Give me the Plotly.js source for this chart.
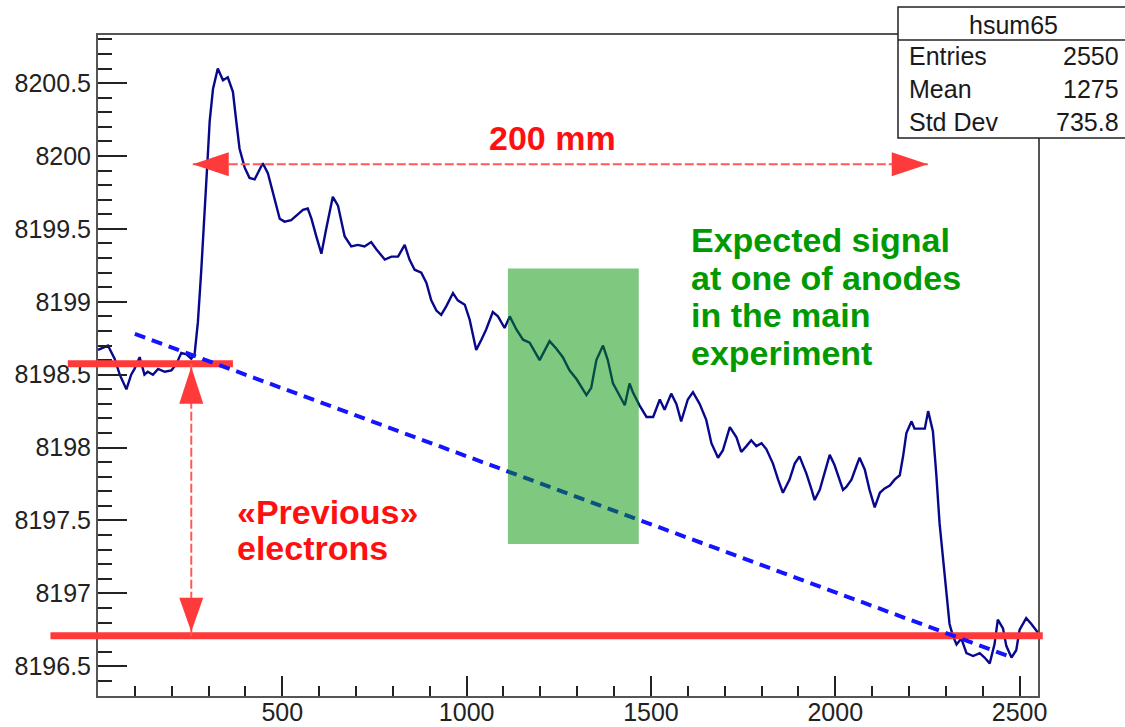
<!DOCTYPE html>
<html>
<head>
<meta charset="utf-8">
<script src="https://cdn.plot.ly/plotly-3.0.1.min.js"></script>
<style>
  html, body { margin: 0; padding: 0; background: #ffffff; }
  #chart { width: 1125px; height: 727px; }
</style>
</head>
<body>
<div id="chart"></div>
<script>
// ---- histogram hsum65: summed signal per bin ----
const binCenters = [
  0, 27, 45, 59, 77, 90, 99, 113, 126, 135,
  149, 163, 181, 199, 212, 226, 240, 253, 262, 271,
  280, 289, 298, 303, 312, 325, 339, 352, 366, 375,
  384, 398, 411, 425, 438, 447, 461, 479, 493, 506,
  524, 542, 556, 569, 579, 592, 606, 619, 637, 651,
  669, 687, 705, 723, 741, 755, 778, 796, 814, 832,
  845, 859, 877, 891, 904, 918, 931, 945, 963, 976,
  995, 1008, 1026, 1040, 1053, 1071, 1085, 1103, 1117, 1135,
  1153, 1171, 1198, 1225, 1243, 1261, 1279, 1298, 1325, 1338,
  1352, 1370, 1383, 1397, 1410, 1429, 1442, 1451, 1469, 1488,
  1506, 1524, 1537, 1555, 1569, 1582, 1600, 1614, 1632, 1650,
  1664, 1682, 1695, 1714, 1732, 1745, 1759, 1772, 1786, 1800,
  1813, 1831, 1845, 1858, 1876, 1890, 1903, 1922, 1936, 1944,
  1958, 1971, 1985, 1998, 2012, 2021, 2030, 2044, 2057, 2066,
  2080, 2093, 2107, 2121, 2134, 2148, 2161, 2175, 2184, 2193,
  2207, 2215, 2229, 2243, 2252, 2265, 2274, 2283, 2292, 2301,
  2310, 2319, 2329, 2342, 2356, 2374, 2392, 2405, 2419, 2432,
  2441, 2455, 2464, 2478, 2491, 2500, 2518, 2532, 2545, 2550
];
const binContents = [
  8198.67, 8198.70, 8198.61, 8198.50, 8198.40, 8198.50, 8198.54, 8198.62, 8198.50, 8198.52,
  8198.50, 8198.54, 8198.52, 8198.53, 8198.57, 8198.65, 8198.64, 8198.61, 8198.64, 8198.86,
  8199.21, 8199.66, 8200.01, 8200.24, 8200.46, 8200.60, 8200.52, 8200.54, 8200.44, 8200.24,
  8200.05, 8199.92, 8199.85, 8199.84, 8199.90, 8199.95, 8199.88, 8199.71, 8199.57, 8199.55,
  8199.56, 8199.60, 8199.63, 8199.64, 8199.57, 8199.45, 8199.33, 8199.50, 8199.72, 8199.66,
  8199.45, 8199.38, 8199.39, 8199.38, 8199.41, 8199.36, 8199.29, 8199.31, 8199.31, 8199.39,
  8199.29, 8199.22, 8199.20, 8199.13, 8199.01, 8198.94, 8198.91, 8198.97, 8199.06, 8199.01,
  8198.98, 8198.88, 8198.67, 8198.74, 8198.81, 8198.93, 8198.90, 8198.82, 8198.90, 8198.81,
  8198.74, 8198.72, 8198.60, 8198.73, 8198.68, 8198.62, 8198.53, 8198.47, 8198.36, 8198.41,
  8198.60, 8198.70, 8198.60, 8198.44, 8198.38, 8198.29, 8198.44, 8198.38, 8198.29, 8198.21,
  8198.21, 8198.33, 8198.26, 8198.37, 8198.30, 8198.18, 8198.33, 8198.38, 8198.30, 8198.19,
  8198.03, 8197.93, 8197.98, 8198.14, 8198.07, 8197.97, 8198.01, 8198.05, 8198.01, 8198.03,
  8197.99, 8197.89, 8197.78, 8197.69, 8197.78, 8197.89, 8197.94, 8197.82, 8197.71, 8197.64,
  8197.71, 8197.82, 8197.95, 8197.88, 8197.78, 8197.71, 8197.73, 8197.78, 8197.87, 8197.93,
  8197.85, 8197.71, 8197.59, 8197.69, 8197.72, 8197.74, 8197.78, 8197.81, 8197.94, 8198.10,
  8198.18, 8198.13, 8198.13, 8198.13, 8198.25, 8198.11, 8197.82, 8197.48, 8197.25, 8197.02,
  8196.79, 8196.71, 8196.65, 8196.69, 8196.59, 8196.57, 8196.59, 8196.56, 8196.52, 8196.65,
  8196.82, 8196.76, 8196.64, 8196.56, 8196.61, 8196.75, 8196.83, 8196.79, 8196.75, 8196.73
];

// ---- axes ----
const xRange = [0, 2550];
const yRange = [8196.296, 8200.830];
const xTickVals = [500, 1000, 1500, 2000, 2500];
const xTickText = ['500', '1000', '1500', '2000', '2500'];
const yTickVals = [8196.5, 8197, 8197.5, 8198, 8198.5, 8199, 8199.5, 8200, 8200.5];
const yTickText = ['8196.5', '8197', '8197.5', '8198', '8198.5', '8199', '8199.5', '8200', '8200.5'];

// ---- statistics box ----
const histName = 'hsum65';
const statLabels = ['Entries', 'Mean', 'Std Dev'];
const statValues = ['2550', '1275', '735.8'];

// ---- overlays, in data units ----
const levelBefore = 8198.575;          // baseline before the pulse
const levelAfter = 8196.71;            // baseline after the pulse
const levelBeforeSpan = [-82, 366];
const levelAfterSpan = [-129, 2563];
const trendX = [100, 2480];            // dashed drift line
const trendY = [8198.78, 8196.56];
const lengthArrowX = [257, 2251];      // 200 mm span
const lengthArrowY = 8199.943;
const offsetArrowX = 253;              // "previous" electrons offset
const signalBoxX = [1112, 1467];
const signalBoxY = [8197.338, 8199.229];
const lengthLabel = '200 mm';
const signalLabel = ['Expected signal', 'at one of anodes', 'in the main', 'experiment'];
const offsetLabel = ['«Previous»', 'electrons'];

// ---- page geometry ----
const W = 1125, H = 727;
const M = { l: 98, r: 87, t: 35, b: 31 };
const plotW = W - M.l - M.r, plotH = H - M.t - M.b;
const pxX = p => (p - M.l) / plotW;              // page pixel -> paper x
const pxY = p => (M.t + plotH - p) / plotH;      // page pixel -> paper y
const dataToPaperX = x => (x - xRange[0]) / (xRange[1] - xRange[0]);

const FONT = 'Liberation Sans, Arial, Helvetica, sans-serif';
const RED_LINE = '#ff3a3a';
const RED_DASH = '#ff5a5a';
const RED_TEXT = '#ff1010';
const GREEN_TEXT = '#009a00';

const trace = {
  type: 'scatter',
  mode: 'lines',
  x: binCenters,
  y: binContents,
  line: { color: '#08088c', width: 2.4 },
  hoverinfo: 'x+y'
};

const axisCommon = {
  showgrid: false,
  zeroline: false,
  showline: true,
  mirror: true,
  linecolor: '#555555',
  linewidth: 2,
  ticks: 'inside',
  tickcolor: '#222222',
  tickwidth: 1.5,
  tickfont: { family: FONT, size: 25, color: '#222222' }
};

const shapes = [
  // flat levels before and after the pulse
  { type: 'line', xref: 'paper', yref: 'y', layer: 'above',
    x0: dataToPaperX(levelBeforeSpan[0]), x1: dataToPaperX(levelBeforeSpan[1]),
    y0: levelBefore, y1: levelBefore, line: { color: RED_LINE, width: 7 } },
  { type: 'line', xref: 'paper', yref: 'y', layer: 'above',
    x0: dataToPaperX(levelAfterSpan[0]), x1: dataToPaperX(levelAfterSpan[1]),
    y0: levelAfter, y1: levelAfter, line: { color: RED_LINE, width: 7 } },
  // drift trend
  { type: 'line', xref: 'x', yref: 'y', layer: 'above',
    x0: trendX[0], x1: trendX[1], y0: trendY[0], y1: trendY[1],
    line: { color: '#1414ff', width: 4, dash: '11px,7px' } },
  // 200 mm span arrow
  { type: 'line', xref: 'x', yref: 'y', layer: 'above',
    x0: lengthArrowX[0], x1: lengthArrowX[1], y0: lengthArrowY, y1: lengthArrowY,
    line: { color: RED_DASH, width: 2, dash: '9px,3px' } },
  { type: 'path', xref: 'x', yref: 'y', layer: 'above',
    xsizemode: 'pixel', ysizemode: 'pixel', xanchor: lengthArrowX[0], yanchor: lengthArrowY,
    path: 'M0,0 L36,12 L36,-12 Z', fillcolor: RED_LINE, line: { width: 0 } },
  { type: 'path', xref: 'x', yref: 'y', layer: 'above',
    xsizemode: 'pixel', ysizemode: 'pixel', xanchor: lengthArrowX[1], yanchor: lengthArrowY,
    path: 'M0,0 L-36,12 L-36,-12 Z', fillcolor: RED_LINE, line: { width: 0 } },
  // offset arrow between the two levels
  { type: 'line', xref: 'x', yref: 'y', layer: 'above',
    x0: offsetArrowX, x1: offsetArrowX, y0: levelBefore, y1: levelAfter,
    line: { color: RED_DASH, width: 2, dash: '9px,3px' } },
  { type: 'path', xref: 'x', yref: 'y', layer: 'above',
    xsizemode: 'pixel', ysizemode: 'pixel', xanchor: offsetArrowX, yanchor: levelBefore,
    path: 'M0,-3 L-12,-40 L12,-40 Z', fillcolor: RED_LINE, line: { width: 0 } },
  { type: 'path', xref: 'x', yref: 'y', layer: 'above',
    xsizemode: 'pixel', ysizemode: 'pixel', xanchor: offsetArrowX, yanchor: levelAfter,
    path: 'M0,4 L-12,38 L12,38 Z', fillcolor: RED_LINE, line: { width: 0 } },
  // expected signal window
  { type: 'rect', xref: 'x', yref: 'y', layer: 'above',
    x0: signalBoxX[0], x1: signalBoxX[1], y0: signalBoxY[0], y1: signalBoxY[1],
    fillcolor: 'rgb(0,146,0)', opacity: 0.5, line: { width: 0 } },
  // statistics box
  { type: 'rect', xref: 'paper', yref: 'paper', layer: 'above',
    x0: pxX(898), x1: pxX(1135), y0: pxY(138), y1: pxY(7),
    fillcolor: '#ffffff', line: { color: '#222222', width: 1.5 } },
  { type: 'line', xref: 'paper', yref: 'paper', layer: 'above',
    x0: pxX(898), x1: pxX(1135), y0: pxY(40), y1: pxY(40),
    line: { color: '#222222', width: 1.5 } }
];

const annotations = [];
const boldText = (txt, x, y, color, xanchor) => ({
  xref: 'paper', yref: 'paper', x: x, y: y, xanchor: xanchor, yanchor: 'middle',
  text: '<b>' + txt + '</b>', showarrow: false,
  font: { family: FONT, size: 34, color: color }
});
annotations.push(boldText(lengthLabel, pxX(552), pxY(138), RED_TEXT, 'center'));
const signalRows = [240, 278, 315, 353];
signalLabel.forEach((t, i) => annotations.push(boldText(t, pxX(689), pxY(signalRows[i]), GREEN_TEXT, 'left')));
const offsetRows = [512, 548];
offsetLabel.forEach((t, i) => annotations.push(boldText(t, pxX(235), pxY(offsetRows[i]), RED_TEXT, 'left')));

const statFont = { family: FONT, size: 25, color: '#1a1a1a' };
annotations.push({ xref: 'paper', yref: 'paper', x: pxX(1013), y: pxY(25), xanchor: 'center', yanchor: 'middle',
  text: histName, showarrow: false, font: statFont });
const statRows = [56, 89, 122];
statLabels.forEach((t, i) => {
  annotations.push({ xref: 'paper', yref: 'paper', x: pxX(907), y: pxY(statRows[i]), xanchor: 'left', yanchor: 'middle',
    text: t, showarrow: false, font: statFont });
  annotations.push({ xref: 'paper', yref: 'paper', x: pxX(1121), y: pxY(statRows[i]), xanchor: 'right', yanchor: 'middle',
    text: statValues[i], showarrow: false, font: statFont });
});

const layout = {
  width: W, height: H,
  margin: { l: M.l, r: M.r, t: M.t, b: M.b, pad: 0 },
  paper_bgcolor: '#ffffff',
  plot_bgcolor: '#ffffff',
  showlegend: false,
  xaxis: Object.assign({}, axisCommon, {
    range: xRange,
    tickmode: 'array', tickvals: xTickVals, ticktext: xTickText,
    ticklen: 20,
    ticklabelstandoff: -7,
    minor: { tickmode: 'linear', tick0: 0, dtick: 100, ticks: 'inside', ticklen: 10,
             tickcolor: '#222222', tickwidth: 1.5, showgrid: false }
  }),
  yaxis: Object.assign({}, axisCommon, {
    range: yRange,
    tickmode: 'array', tickvals: yTickVals, ticktext: yTickText,
    ticklen: 29,
    minor: { tickmode: 'linear', tick0: 8196.5, dtick: 0.1, ticks: 'inside', ticklen: 14,
             tickcolor: '#222222', tickwidth: 1.5, showgrid: false }
  }),
  shapes: shapes,
  annotations: annotations
};

Plotly.newPlot('chart', [trace], layout, { displayModeBar: false });
</script>
</body>
</html>
